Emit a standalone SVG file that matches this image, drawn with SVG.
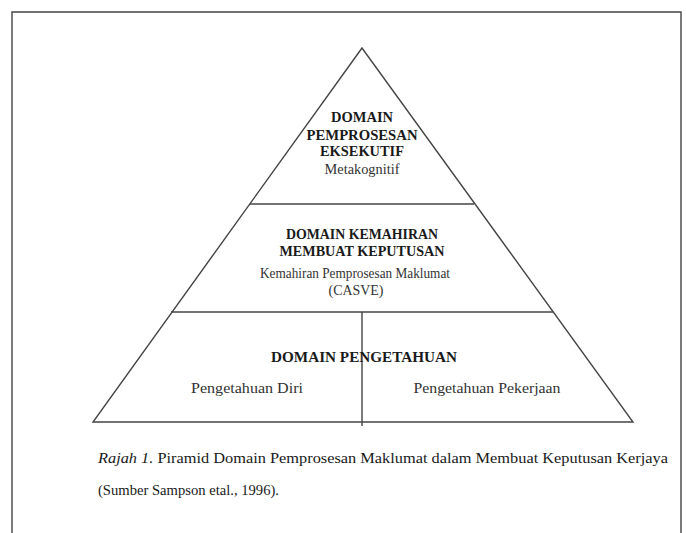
<svg xmlns="http://www.w3.org/2000/svg" width="686" height="533" viewBox="0 0 686 533">
<style>
.ln{stroke:#444;stroke-width:1.4;fill:none}
.b{font-family:"Liberation Serif","DejaVu Serif",serif;font-weight:bold;font-size:14px;fill:#1a1a1a;text-anchor:middle}
.r{font-family:"Liberation Serif","DejaVu Serif",serif;font-size:14px;fill:#333;text-anchor:middle}
.c{font-family:"Liberation Serif","DejaVu Serif",serif;font-size:14.5px;fill:#1a1a1a}
</style>
<rect x="0" y="0" width="686" height="533" fill="#ffffff"/>
<path class="ln" d="M12 540 V12 H681 V540" stroke="#555"/>
<g id="connectors">
<polygon class="ln" points="362,48 93,422 633,422"/>
<line class="ln" x1="250" y1="204" x2="474" y2="204"/>
<line class="ln" x1="171" y1="312" x2="553" y2="312"/>
<line class="ln" x1="362" y1="312" x2="362" y2="426"/>
</g>
<g id="node-eksekutif">
<text class="b" x="362" y="122" textLength="62" lengthAdjust="spacingAndGlyphs">DOMAIN</text>
<text class="b" x="362" y="140" textLength="111" lengthAdjust="spacingAndGlyphs">PEMPROSESAN</text>
<text class="b" x="362" y="156" textLength="84" lengthAdjust="spacingAndGlyphs">EKSEKUTIF</text>
<text class="r" x="362" y="174" textLength="75" lengthAdjust="spacingAndGlyphs">Metakognitif</text>
</g>
<g id="node-kemahiran">
<text class="b" x="362" y="239" textLength="152" lengthAdjust="spacingAndGlyphs">DOMAIN KEMAHIRAN</text>
<text class="b" x="362" y="256" textLength="165" lengthAdjust="spacingAndGlyphs">MEMBUAT KEPUTUSAN</text>
<text class="r" x="355" y="278" textLength="190" lengthAdjust="spacingAndGlyphs">Kemahiran Pemprosesan Maklumat</text>
<text class="r" x="356" y="295" textLength="55" lengthAdjust="spacingAndGlyphs">(CASVE)</text>
</g>
<g id="node-pengetahuan">
<text class="b" x="364" y="362" textLength="186" lengthAdjust="spacingAndGlyphs">DOMAIN PENGETAHUAN</text>
<text class="r" x="247" y="393" textLength="112" lengthAdjust="spacingAndGlyphs">Pengetahuan Diri</text>
<text class="r" x="487" y="393" textLength="147" lengthAdjust="spacingAndGlyphs">Pengetahuan Pekerjaan</text>
</g>
<g id="caption">
<text class="c" x="98" y="463" textLength="570" lengthAdjust="spacingAndGlyphs"><tspan font-style="italic">Rajah 1.</tspan> Piramid Domain Pemprosesan Maklumat dalam Membuat Keputusan Kerjaya</text>
<text class="c" x="98" y="495" textLength="181" lengthAdjust="spacingAndGlyphs">(Sumber Sampson etal., 1996).</text>
</g>
</svg>
